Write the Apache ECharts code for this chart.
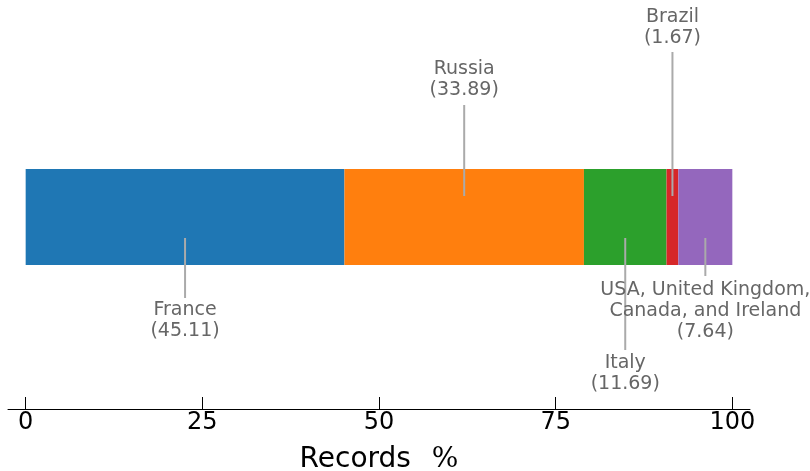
<!DOCTYPE html>
<html><head><meta charset="utf-8">
<script src="https://cdn.jsdelivr.net/npm/echarts@6/dist/echarts.min.js"></script>
<style>html,body{margin:0;padding:0;background:#fff}#c{width:810px;height:471px}</style>
</head><body><div id="c"></div>
<script>
const categories = ['France', 'Russia', 'Italy', 'Brazil', 'USA, United Kingdom,\nCanada, and Ireland'];
const values = [45.11, 33.89, 11.69, 1.67, 7.64];
const colors = ['#1f77b4', '#ff7f0e', '#2ca02c', '#d62728', '#9467bd'];
const tickValues = [0, 25, 50, 75, 100];
// label placement (pixel offsets from bar center): side, line end, text anchor
const placement = [
  {side: 1, lineEnd: 81, text: 83},
  {side: -1, lineEnd: 112, text: 116},
  {side: 1, lineEnd: 133, text: 136},
  {side: -1, lineEnd: 165, text: 168},
  {side: 1, lineEnd: 59, text: 63}
];
const FONT = '"DejaVu Sans", sans-serif';

let cum = 0;
const mids = values.map(v => { const m = cum + v / 2; cum += v; return m; });

const barSeries = values.map((v, i) => ({
  type: 'bar', stack: 's', name: categories[i],
  data: [v], barWidth: 96,
  itemStyle: {color: colors[i]},
  silent: true, animation: false
}));

const annot = {
  type: 'custom',
  animation: false, silent: true,
  data: mids.map((m, i) => [m, 0, i]),
  encode: {x: 0, y: 1},
  z: 10,
  renderItem: function (params, api) {
    const i = api.value(2);
    const p = api.coord([api.value(0), 0]);
    const pl = placement[i];
    const s = pl.side;
    const y0 = p[1] + s * 21;
    const y1 = p[1] + s * pl.lineEnd;
    const label = categories[i] + '\n(' + values[i].toFixed(2) + ')';
    return {
      type: 'group',
      children: [
        {type: 'line', shape: {x1: p[0], y1: y0, x2: p[0], y2: y1},
         style: {stroke: '#aaaaaa', lineWidth: 2}},
        {type: 'text', x: p[0], y: p[1] + s * pl.text,
         style: {text: label, fill: '#666666', font: '19px ' + FONT,
                 align: 'center', verticalAlign: s > 0 ? 'top' : 'bottom', lineHeight: 21}}
      ]
    };
  }
};

const chart = echarts.init(document.getElementById('c'), null, {renderer: 'canvas'});
chart.setOption({
  animation: false,
  grid: {left: 8, right: 60, top: 25, bottom: 62, outerBoundsMode: 'none', containLabel: false},
  xAxis: {
    type: 'value', min: -2.5, max: 102.5,
    name: 'Records {p|%}', nameLocation: 'middle', nameGap: 37,
    nameTextStyle: {fontFamily: FONT, fontSize: 28, color: '#000',
      rich: {p: {fontFamily: '"DejaVu Serif", serif', fontSize: 28, color: '#000', padding: [0, 0, 0, 12]}}},
    axisLine: {show: true, lineStyle: {color: '#000', width: 1}},
    axisTick: {show: true, inside: true, length: 12, customValues: tickValues, lineStyle: {color: '#000'}},
    axisLabel: {customValues: tickValues, fontFamily: FONT, fontSize: 24, color: '#000', margin: 2},
    splitLine: {show: false}
  },
  yAxis: {
    type: 'category', data: ['Records'],
    axisLine: {show: false}, axisTick: {show: false}, axisLabel: {show: false}
  },
  series: barSeries.concat([annot])
});
</script></body></html>
